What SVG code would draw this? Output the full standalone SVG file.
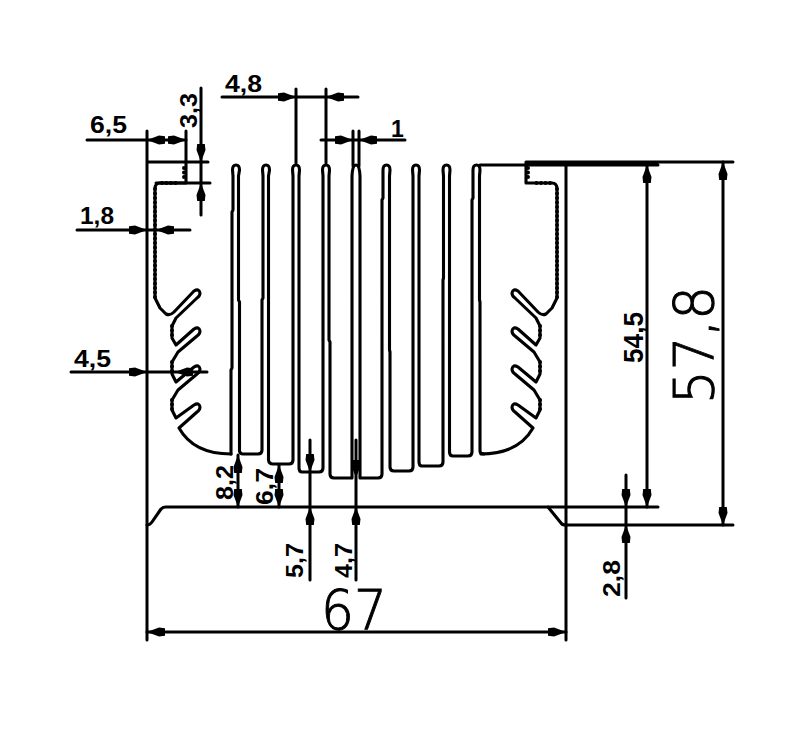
<svg xmlns="http://www.w3.org/2000/svg" xmlns:xlink="http://www.w3.org/1999/xlink" width="790" height="729" viewBox="0 0 790 729">
<style>
.p{fill:none;stroke:#000;stroke-width:3.1;stroke-linejoin:round;stroke-linecap:round}
.b{fill:none;stroke:#000;stroke-width:4;stroke-linecap:round;stroke-dasharray:0 4.500}
.d{fill:none;stroke:#000;stroke-width:3;stroke-linecap:round}
.t{font-family:"Liberation Sans",Arial,sans-serif;font-weight:700;font-size:23px;fill:#000}
.m{font-family:"Liberation Sans",Arial,sans-serif;font-weight:700;font-size:27px;fill:#000}
.l{font-family:"DejaVu Sans","Open Sans",sans-serif;font-weight:200;font-size:55px;fill:#000;stroke:#000;stroke-width:1}
</style>
<defs>
<path id="ah" d="M0 0L-12-4.500L-18-3.800V3.800L-12 4.500Z" fill="#000"/>
<g id="side">
<path class="p" d="M186 162V183H160Q155 183 155 189V298L160 308L166 314Q170 316 174 312L194 291Q199 288 200 293Q200 296 197 298L176 318L172 326V338L176 345L194 329Q199 326 200 331Q200 334 197 336L178 352L172 362V374L176 382L194 367Q199 364 200 369Q200 372 197 374L178 390L172 400V410L176 418L194 405Q199 402 200 407Q200 410 197 412L179 428C188 444 205 454 231 454"/>
<path class="b" d="M155 189V298M172 326V338M172 362V374M172 400V410M162 183H180M184 168V181"/>
</g>
</defs>
<rect width="790" height="729" fill="#fff"/>
<g id="profile">
<use xlink:href="#side" href="#side"/>
<use xlink:href="#side" href="#side" transform="matrix(-1 0 0 1 712 0)"/>
<path id="fins" class="p" d="M231 454V370L232 368V212L233 210V176L232.500 170Q232.500 165 236 165Q239.500 165 239.500 170L238.500 176V300L239.500 302V451Q240 454 243 454H258Q262 454 262 450V300L263 298V176L262.500 170Q262.500 165 266 165Q269.500 165 269.500 170L268.500 176V460Q269 464 273 464H289Q293 464 293 460V220L293 218V176L292.500 170Q292.500 165 296 165Q299.500 165 299.500 170L299 176V468Q299 472 302 472H319Q323 472 323 468V220L323 218V176L322.500 170Q322.500 165 326 165Q329.500 165 329.500 170L329 176V340L330 342V474Q330 478 334 478H352V176Q352.500 165 356 165Q359.500 165 360 176V478H378Q382 478 382 474V200L383 198V176L383 170Q383 165 386.500 165Q390 165 390 170L389.500 176V350L390 352V467Q390 471 394 471H409Q413 471 413 467V240L413 238V176L412.500 170Q412.500 165 416 165Q419.500 165 419.500 170L419 176V462Q419 466 422 466H439Q443 466 443 462V280L443.500 278V176L443 170Q443 165 446.500 165Q450 165 450 170L449.500 176V452Q449.500 456 453 456H468Q472 456 472 452V200L473 198V176L473 170Q473 165 476.500 165Q480 165 480 170L479.500 176V300L480 302V451Q480 454 484 454"/>
<path id="base" class="p" d="M147 525Q150 525 152 522L161 509Q163 507 166 507H548L561 523Q562 525 566 525"/>
</g>
<g id="connectors">
<path class="d" d="M147 131V640M566 162V640M147 162H208M186 131V162M156 183H210M480 165H658M527 162H733M548 507H658M566 525H733"/>
<path class="d" d="M87 140H186M201 88V215M222 97H358M296 89V163M326 89V163M321 140H405M353 131V166M359 131V166M77 230H190M71 372H207M238 455V507M279 465V507M310 440V580M356 440V580M626 475V598M647 165V507M723 162V525M147 632H566"/>
<use href="#ah" transform="translate(147 140) rotate(180)"/><use href="#ah" transform="translate(186 140)"/>
<use href="#ah" transform="translate(201 162) rotate(90)"/><use href="#ah" transform="translate(201 183) rotate(-90)"/>
<use href="#ah" transform="translate(296 97)"/><use href="#ah" transform="translate(326 97) rotate(180)"/>
<use href="#ah" transform="translate(353 140)"/><use href="#ah" transform="translate(359 140) rotate(180)"/>
<use href="#ah" transform="translate(147 230)"/><use href="#ah" transform="translate(156 230) rotate(180)"/>
<use href="#ah" transform="translate(147 372)"/><use href="#ah" transform="translate(175 372) rotate(180)"/>
<use href="#ah" transform="translate(238 455) rotate(-90)"/><use href="#ah" transform="translate(238 507) rotate(90)"/>
<use href="#ah" transform="translate(279 465) rotate(-90)"/><use href="#ah" transform="translate(279 507) rotate(90)"/>
<use href="#ah" transform="translate(310 472) rotate(90)"/><use href="#ah" transform="translate(310 507) rotate(-90)"/>
<use href="#ah" transform="translate(356 478) rotate(90)"/><use href="#ah" transform="translate(356 507) rotate(-90)"/>
<use href="#ah" transform="translate(626 507) rotate(90)"/><use href="#ah" transform="translate(626 525) rotate(-90)"/>
<use href="#ah" transform="translate(647 165) rotate(-90)"/><use href="#ah" transform="translate(647 507) rotate(90)"/>
<use href="#ah" transform="translate(723 162) rotate(-90)"/><use href="#ah" transform="translate(723 525) rotate(90)"/>
<use href="#ah" transform="translate(147 632) rotate(180)"/><use href="#ah" transform="translate(566 632)"/>
</g>
<g id="labels">
<text class="t" x="90" y="133" textLength="37" lengthAdjust="spacingAndGlyphs">6,5</text>
<text class="t" x="225" y="92" textLength="37" lengthAdjust="spacingAndGlyphs">4,8</text>
<text class="t" x="391" y="137">1</text>
<text class="t" x="80" y="224" textLength="34" lengthAdjust="spacingAndGlyphs">1,8</text>
<text class="t" x="74" y="367" textLength="37" lengthAdjust="spacingAndGlyphs">4,5</text>
<text class="t" transform="translate(196.500 128) rotate(-90)" textLength="35" lengthAdjust="spacingAndGlyphs">3,3</text>
<text class="t" transform="translate(233 500) rotate(-90)" textLength="35" lengthAdjust="spacingAndGlyphs">8,2</text>
<text class="t" transform="translate(273 505) rotate(-90)" textLength="37" lengthAdjust="spacingAndGlyphs">6,7</text>
<text class="t" transform="translate(303 578) rotate(-90)" textLength="35" lengthAdjust="spacingAndGlyphs">5,7</text>
<text class="t" transform="translate(352 578) rotate(-90)" textLength="35" lengthAdjust="spacingAndGlyphs">4,7</text>
<text class="t" transform="translate(620 597) rotate(-90)" textLength="37" lengthAdjust="spacingAndGlyphs">2,8</text>
<text class="m" transform="translate(643 363) rotate(-90)" textLength="51" lengthAdjust="spacingAndGlyphs">54,5</text>
<text class="l" transform="translate(713 404) rotate(-90)" textLength="118" lengthAdjust="spacingAndGlyphs">57,8</text>
<text class="l" x="321" y="629" textLength="66" lengthAdjust="spacingAndGlyphs">67</text>
</g>
</svg>
